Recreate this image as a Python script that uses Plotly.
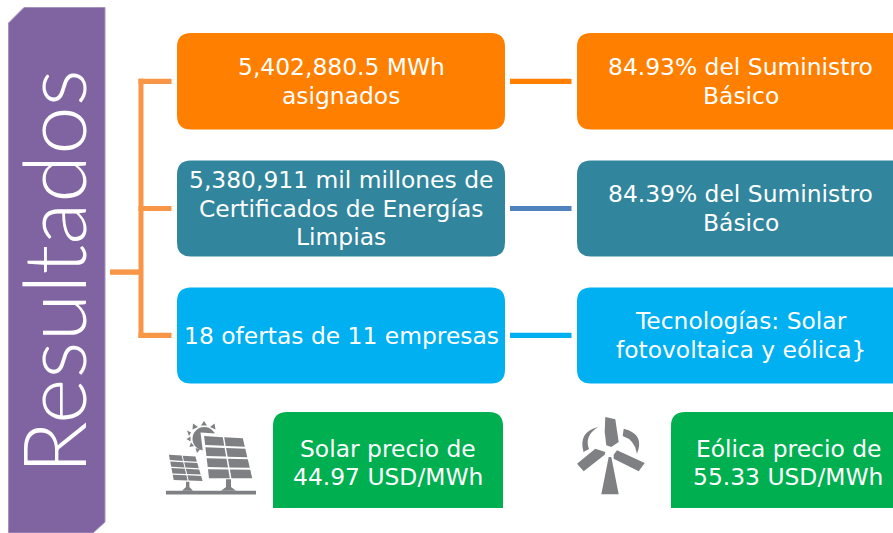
import plotly.graph_objects as go

TITLE = "Resultados"
ROW_LEFT = [["5,402,880.5 MWh", "asignados"],
            ["5,380,911 mil millones de", "Certificados de Energías", "Limpias"],
            ["18 ofertas de 11 empresas"]]
ROW_RIGHT = [["84.93% del Suministro", "Básico"],
             ["84.39% del Suministro", "Básico"],
             ["Tecnologías: Solar", "fotovoltaica y eólica}"]]
PRICES = [["Solar precio de", "44.97 USD/MWh"], ["Eólica precio de", "55.33 USD/MWh"]]

ORANGE, TEAL, SKY, GREEN = "#FF8000", "#31859C", "#00B0F0", "#00B050"
PURPLE, LINK, GRAY = "#8064A2", "#F79646", "#7F8083"
FONT = "DejaVu Sans"
FS = 23.4
LH = 28.5

shapes, ann = [], []

def poly(pts, fill, line=None, lw=0):
    d = "M" + " L".join(f"{x},{y}" for x, y in pts) + " Z"
    shapes.append(dict(type="path", path=d, fillcolor=fill, layer="above",
                       line=dict(color=line or fill, width=lw)))

def rrect(x0, y0, x1, y1, r, fill, square_bottom=False):
    rb = 0 if square_bottom else r
    d = (f"M{x0+r},{y0} L{x1-r},{y0} Q{x1},{y0} {x1},{y0+r} L{x1},{y1-rb} Q{x1},{y1} {x1-rb},{y1} "
         f"L{x0+rb},{y1} Q{x0},{y1} {x0},{y1-rb} L{x0},{y0+r} Q{x0},{y0} {x0+r},{y0} Z")
    shapes.append(dict(type="path", path=d, fillcolor=fill, layer="below", line=dict(width=0)))

def rect(x0, y0, x1, y1, c):
    shapes.append(dict(type="rect", x0=x0, y0=y0, x1=x1, y1=y1, fillcolor=c, line=dict(width=0), layer="below"))

def lines(txt, cx, cy):
    n = len(txt)
    for i, t in enumerate(txt):
        ann.append(dict(x=cx, y=cy + (i - (n - 1) / 2) * LH, text=t, showarrow=False, xanchor="center",
                        yanchor="middle", font=dict(family=FONT, size=FS, color="white")))

# title band
poly([(24, 7.5), (105, 7.5), (105, 522), (93, 533), (8.5, 533), (8.5, 23)], PURPLE, "#A592BD", 1)
shapes[-1]["layer"] = "below"
ann.append(dict(x=52.5, y=271.5, text=TITLE, textangle=-90, showarrow=False, xanchor="center", yanchor="middle",
                font=dict(family="Lato", size=87, color="white", weight=300)))

# connectors
rect(138.5, 78.8, 143.5, 338, LINK)
for y in (81.3, 208.5, 335.3):
    rect(138.5, y - 2.6, 171.5, y + 2.6, LINK)
rect(110, 269.4, 140, 274.8, LINK)
for y, c in ((81.3, ORANGE), (208.5, "#4F81BD"), (335.3, SKY)):
    rect(510, y - 2.6, 571.5, y + 2.6, c)

# rows
for (y0, y1, c, a, b) in ((33, 129.5, ORANGE, ROW_LEFT[0], ROW_RIGHT[0]),
                          (160.5, 256.5, TEAL, ROW_LEFT[1], ROW_RIGHT[1]),
                          (287.5, 383.5, SKY, ROW_LEFT[2], ROW_RIGHT[2])):
    rrect(177, y0, 505, y1, 14, c)
    rrect(577, y0, 920, y1, 14, c)
    lines(a, 341, (y0 + y1) / 2)
    lines(b, 740.5, (y0 + y1) / 2)

# price boxes
rrect(273, 412, 503, 508, 14, GREEN, square_bottom=True)
rrect(671, 412, 920, 508, 14, GREEN, square_bottom=True)
lines(PRICES[0], 388, 463)
lines(PRICES[1], 788, 463)

# solar icon
def panel(tl, tr, br, bl, cols, rows):
    def pt(u, v):
        lx = tl[0] + (bl[0] - tl[0]) * v; ly = tl[1] + (bl[1] - tl[1]) * v
        rx = tr[0] + (br[0] - tr[0]) * v; ry = tr[1] + (br[1] - tr[1]) * v
        return (round(lx + (rx - lx) * u, 1), round(ly + (ry - ly) * u, 1))
    for i in range(cols):
        for j in range(rows):
            u0, u1 = i / cols + 0.018, (i + 1) / cols - 0.018
            v0, v1 = j / rows + 0.025, (j + 1) / rows - 0.025
            poly([pt(u0, v0), pt(u1, v0), pt(u1, v1), pt(u0, v1)], GRAY)

shapes.append(dict(type="circle", x0=192.5, y0=427, x1=216, y1=450.5, fillcolor=GRAY, line=dict(width=0), layer="above"))
for p in ([(204, 421), (207, 425.5), (201, 425.5)], [(193, 423.5), (198, 427), (192.5, 429.5)],
          [(214.5, 423.5), (215.5, 429.5), (210, 427)], [(187, 430.5), (191, 432.5), (189, 436)],
          [(186.5, 439), (190.5, 436.5), (190.5, 441.5)], [(189.5, 447), (191, 442.5), (194, 446)],
          [(197, 453), (195.5, 448), (200, 449.5)]):
    poly(p, GRAY)
poly([(200.5, 432.5), (245, 435.5), (256, 481), (206.5, 481)], "white")
panel((203.3, 435), (243.3, 437.3), (253.3, 479.3), (208.3, 479.3), 2, 4)
panel((168.3, 454), (195.7, 456), (203.3, 481.7), (173.3, 480.7), 2, 4)
poly([(186, 481.7), (189.4, 481.7), (189.4, 487), (193, 490.8), (182, 490.8), (186, 487)], GRAY)
poly([(226, 479.3), (231, 479.3), (231, 487), (236, 490.8), (221, 490.8), (226, 487)], GRAY)
poly([(166, 490.7), (256, 490.7), (256, 494.4), (166, 494.4)], GRAY)

# wind icon
poly([(608.7, 457), (611.3, 457), (618.7, 494.3), (601.3, 494.3)], GRAY)
poly([(605.3, 417), (615.3, 419.3), (618.7, 442), (611.3, 447), (606.3, 445.3), (604.7, 432)], GRAY)
poly([(577, 463.7), (595.3, 448.7), (605.3, 452), (604.7, 454.7), (583.7, 471.3)], GRAY)
poly([(613.7, 454.7), (617, 450.3), (644.7, 463), (638.7, 471.3), (613.7, 458.7)], GRAY)
shapes.append(dict(type="path", path="M598,427 Q578,432 583.5,452 L589,449 Q584,436 598,427 Z", fillcolor=GRAY, line=dict(width=0), layer="above"))
shapes.append(dict(type="path", path="M623.7,428.7 Q645,434 637,453.7 Q635,440 622.7,436 Z", fillcolor=GRAY, line=dict(width=0), layer="above"))
shapes.append(dict(type="circle", x0=606.8, y0=447.8, x1=613.8, y1=454.8, fillcolor="white", line=dict(width=0), layer="above"))

fig = go.Figure()
fig.update_layout(width=893, height=533, margin=dict(l=0, r=0, t=0, b=0), autosize=False,
                  paper_bgcolor="white", plot_bgcolor="white", showlegend=False,
                  shapes=shapes, annotations=ann,
                  xaxis=dict(range=[0, 893], visible=False, fixedrange=True),
                  yaxis=dict(range=[533, 0], visible=False, fixedrange=True))
fig.write_html("out.html", config=dict(displayModeBar=False),
               post_script="document.body.style.margin='0';document.body.style.overflow='hidden';")
